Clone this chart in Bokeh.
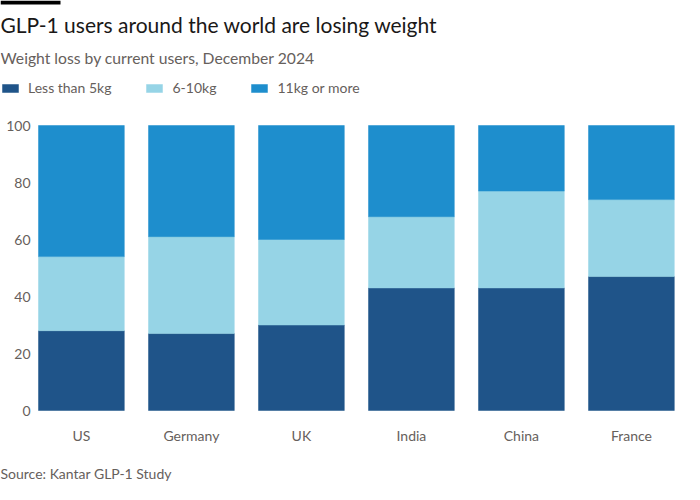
from bokeh.core.properties import value
from bokeh.embed import file_html
from bokeh.models import (ColumnDataSource, Range1d, Legend, LegendItem, Label,
                          BoxAnnotation)
from bokeh.plotting import figure
from bokeh.resources import INLINE

countries = ["US", "Germany", "UK", "India", "China", "France"]
less_5kg = [28, 27, 30, 43, 43, 47]
kg_6_10 = [26, 34, 30, 25, 34, 27]
kg_11_plus = [46, 39, 40, 32, 23, 26]
y_ticks = [0, 20, 40, 60, 80, 100]

series = ["less", "mid", "more"]
labels = ["Less than 5kg", "6-10kg", "11kg or more"]
colors = ["#1f5489", "#96d4e6", "#1e8ecd"]

FONT = "Lato"
GREY = "#66605c"
W, H = 684, 484

# the frame fills the whole canvas; the data area sits inside it
PX_X = 110.0          # pixels per category
PX_Y = 2.85           # pixels per percentage point
X0 = -0.39 - 38 / PX_X
Y0 = -(H - 410) / PX_Y

source = ColumnDataSource(data=dict(
    x=list(range(len(countries))),
    less=less_5kg,
    mid=kg_6_10,
    more=kg_11_plus,
))

p = figure(width=W, height=H, output_backend="svg", toolbar_location=None,
           x_range=Range1d(X0, X0 + W / PX_X), y_range=Range1d(Y0, Y0 + H / PX_Y),
           min_border=0)
p.axis.visible = False
p.grid.visible = False
p.outline_line_color = None

bars = p.vbar_stack(series, x="x", width=0.78, source=source,
                    color=colors, line_color=colors, line_width=0.5)

# y tick labels
p.text(x=[X0 + 30 / PX_X] * len(y_ticks), y=y_ticks, text=[str(t) for t in y_ticks],
       text_align="right", text_baseline="middle", text_font=value(FONT),
       text_font_size="14px", text_color=GREY)
# category labels
p.text(x=list(range(len(countries))), y=[-25 / PX_Y] * len(countries), text=countries,
       text_align="center", text_baseline="middle", text_font=value(FONT),
       text_font_size="14px", text_color=GREY)

# header
p.add_layout(BoxAnnotation(left=0, right=60, top=H, bottom=H - 4,
                           left_units="screen", right_units="screen",
                           top_units="screen", bottom_units="screen",
                           fill_color="black", fill_alpha=1, line_color=None))
p.add_layout(Label(x=0, y=H - 24, x_units="screen", y_units="screen",
                   text="GLP-1 users around the world are losing weight",
                   text_font=FONT, text_font_size="21px", text_color="#1a1817",
                   text_baseline="middle"))
p.add_layout(Label(x=0, y=H - 57, x_units="screen", y_units="screen",
                   text="Weight loss by current users, December 2024",
                   text_font=FONT, text_font_size="15.7px", text_color=GREY,
                   text_baseline="middle"))

legend = Legend(items=[LegendItem(label=l, renderers=[r]) for l, r in zip(labels, bars)],
                orientation="horizontal", location=(0, H - 96),
                glyph_width=20, glyph_height=10, label_standoff=8, spacing=33,
                padding=0, margin=0, border_line_color=None,
                background_fill_alpha=0,
                label_text_font=FONT, label_text_font_size="14px",
                label_text_color=GREY)
legend.label_height = 16
p.add_layout(legend)

# footer
p.add_layout(Label(x=0, y=H - 473, x_units="screen", y_units="screen",
                   text="Source: Kantar GLP-1 Study",
                   text_font=FONT, text_font_size="14px", text_color=GREY,
                   text_baseline="middle"))

open("out.html", "w").write(file_html(p, INLINE))
